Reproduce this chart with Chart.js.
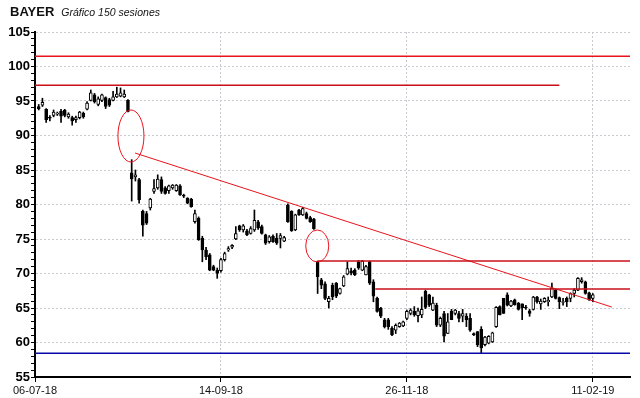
<!DOCTYPE html>
<html>
<head>
<meta charset="utf-8">
<script src="https://cdn.jsdelivr.net/npm/chart.js@4.4.1/dist/chart.umd.min.js"></script>
<style>
  html, body { margin: 0; padding: 0; background: #fff; }
  #wrap { position: relative; width: 640px; height: 398px; }
  #title { position: absolute; left: 10px; top: 3px; font-family: 'Liberation Sans', Arial, sans-serif; white-space: nowrap; color: #111; line-height: 16px; }
  #title b { font-size: 13px; }
  #title i { font-size: 10.5px; margin-left: 7px; }
</style>
</head>
<body>
<div id="wrap">
  <canvas id="chart" width="640" height="398"></canvas>
  <div id="title"><b>BAYER</b><i>Gráfico 150 sesiones</i></div>
</div>
<script>
// --- DATA (150 sesiones) ---
const opens = [
  94.2, 94.4, 93.8, 92.6, 92.9, 93.1, 93.5, 93.7, 92.7, 92.6,
  92.3, 92.6, 93.2, 93.8, 95.1, 95.9, 94.5, 95.1, 95.5, 95.2,
  95.1, 95.6, 95.7, 95.6, 95.1, 84.6, 84.0, 83.6, 79.0, 78.7,
  79.5, 81.9, 82.4, 83.6, 82.4, 82.0, 82.4, 82.0, 82.7, 81.3,
  80.9, 80.8, 77.5, 78.0, 75.1, 73.4, 72.7, 71.0, 70.5, 70.4,
  72.0, 73.4, 73.8, 75.0, 76.9, 76.3, 76.2, 75.8, 76.3, 77.5,
  76.8, 75.6, 74.6, 75.4, 75.1, 75.1, 74.7, 79.9, 79.0, 76.3,
  79.2, 78.5, 78.7, 78.1, 77.9, 71.7, 69.1, 68.5, 65.9, 68.3,
  68.6, 67.1, 68.2, 69.9, 70.4, 70.5, 71.7, 70.5, 69.8, 71.7,
  68.8, 66.4, 65.0, 63.3, 63.3, 62.1, 61.8, 62.3, 62.4, 63.5,
  64.2, 64.5, 63.9, 64.0, 67.4, 66.9, 64.7, 65.4, 62.5, 64.2,
  61.3, 64.5, 64.2, 64.2, 63.8, 63.8, 63.5, 61.3, 61.6, 61.9,
  59.7, 59.9, 60.1, 62.3, 65.2, 66.4, 66.9, 65.3, 66.2, 65.7,
  65.6, 65.1, 64.6, 64.8, 66.6, 65.6, 65.9, 65.9, 66.6, 67.6,
  66.5, 65.8, 66.4, 66.4, 67.1, 67.6, 68.8, 68.8, 67.2, 66.4
];
const highs = [
  94.5, 95.4, 93.9, 92.9, 93.7, 93.4, 93.8, 93.8, 93.3, 92.8,
  92.8, 93.5, 93.4, 94.9, 96.6, 96.1, 95.6, 96.0, 95.6, 95.4,
  96.4, 97.0, 96.9, 96.6, 95.2, 86.5, 85.0, 83.8, 79.2, 79.0,
  80.9, 83.6, 84.3, 84.0, 82.6, 82.8, 82.9, 82.9, 82.9, 81.5,
  81.0, 80.9, 79.2, 78.2, 75.4, 73.8, 72.9, 71.2, 70.8, 72.2,
  73.1, 73.9, 74.2, 76.8, 77.0, 77.1, 76.4, 76.8, 79.2, 77.7,
  77.0, 75.7, 75.5, 75.6, 75.8, 75.8, 75.4, 80.1, 79.1, 78.6,
  79.3, 79.6, 78.9, 78.3, 78.0, 71.8, 69.3, 68.8, 66.7, 68.6,
  68.7, 67.9, 69.7, 71.7, 70.8, 70.7, 71.9, 71.9, 71.2, 71.8,
  69.1, 66.6, 65.1, 63.5, 63.5, 62.3, 62.7, 62.9, 63.1, 64.7,
  64.9, 65.2, 65.0, 66.6, 67.6, 67.0, 66.6, 65.7, 63.7, 64.5,
  64.2, 64.8, 64.8, 64.5, 64.8, 64.2, 64.2, 61.4, 61.6, 62.3,
  60.9, 61.0, 61.5, 65.2, 65.3, 66.4, 67.2, 66.1, 66.3, 65.8,
  65.6, 65.4, 64.8, 66.7, 66.7, 66.3, 66.5, 66.6, 68.6, 67.7,
  66.6, 66.4, 66.6, 67.2, 67.8, 69.4, 69.4, 68.9, 67.3, 67.1
];
const lows = [
  93.7, 94.2, 91.9, 92.1, 92.7, 92.9, 91.9, 92.7, 92.5, 91.5,
  91.9, 92.4, 92.5, 93.7, 95.0, 94.7, 94.3, 94.9, 93.9, 94.2,
  95.0, 95.5, 95.6, 95.5, 93.4, 80.5, 83.4, 80.2, 75.4, 77.1,
  79.2, 81.6, 82.2, 81.6, 81.5, 81.6, 82.2, 81.9, 81.3, 81.0,
  80.1, 79.6, 77.3, 74.8, 71.7, 72.0, 70.4, 70.4, 69.3, 70.2,
  71.8, 73.2, 73.6, 74.9, 76.1, 76.0, 75.5, 75.7, 76.1, 76.4,
  75.7, 74.2, 74.4, 74.5, 74.2, 73.7, 74.6, 77.4, 76.1, 76.2,
  78.4, 78.4, 77.9, 77.4, 76.4, 67.1, 67.8, 66.2, 65.0, 66.2,
  66.5, 67.0, 68.1, 69.8, 69.8, 69.7, 70.6, 70.4, 69.8, 68.4,
  65.9, 64.4, 63.6, 62.1, 61.9, 61.0, 61.3, 62.2, 62.3, 63.3,
  64.0, 63.8, 63.0, 63.6, 64.9, 65.2, 64.6, 62.3, 62.3, 60.1,
  61.3, 63.3, 64.0, 63.0, 63.0, 62.3, 61.6, 61.0, 59.4, 58.4,
  59.5, 59.8, 60.0, 62.2, 64.0, 64.2, 65.3, 65.2, 65.4, 64.7,
  63.3, 64.8, 63.8, 64.7, 65.7, 64.8, 65.8, 65.3, 66.5, 66.3,
  64.9, 65.4, 65.2, 65.9, 66.6, 67.5, 68.6, 67.0, 66.1, 65.9
];
const closes = [
  93.9, 94.8, 92.3, 92.5, 93.4, 93.2, 92.8, 92.9, 93.1, 92.1,
  92.6, 93.4, 92.7, 94.7, 96.2, 94.9, 95.3, 95.9, 94.2, 94.4,
  95.6, 96.0, 96.2, 96.0, 93.5, 83.7, 84.3, 80.7, 77.0, 77.3,
  80.8, 82.3, 83.7, 81.9, 81.6, 82.7, 82.8, 82.8, 81.4, 81.2,
  80.2, 79.7, 78.7, 74.9, 73.4, 72.4, 70.5, 70.5, 70.0, 72.0,
  72.9, 73.6, 74.1, 75.8, 76.3, 76.9, 75.6, 76.5, 77.7, 76.6,
  75.8, 74.4, 75.3, 74.6, 74.4, 75.5, 75.2, 77.5, 76.2, 78.5,
  78.5, 79.4, 78.0, 77.5, 76.5, 69.5, 68.3, 66.4, 66.4, 66.6,
  66.7, 67.8, 69.5, 70.7, 70.1, 69.8, 70.8, 71.8, 71.0, 68.6,
  66.7, 64.5, 63.8, 62.3, 62.3, 61.1, 62.5, 62.8, 63.0, 64.5,
  64.7, 64.0, 64.6, 64.8, 65.1, 65.4, 65.7, 62.5, 63.5, 60.9,
  63.0, 63.3, 64.7, 63.5, 64.2, 63.3, 61.8, 61.1, 59.7, 59.2,
  60.8, 60.9, 61.4, 65.1, 64.0, 64.2, 65.4, 66.0, 65.5, 64.8,
  65.0, 65.0, 64.2, 66.6, 65.9, 66.0, 66.4, 66.1, 67.9, 66.4,
  65.9, 65.9, 65.9, 67.1, 67.6, 69.3, 69.1, 67.1, 66.2, 66.9
];

// x axis: session number, labels every 50 sessions
const dateTickPos = [0, 50, 100, 150];
const dateLabels = ['06-07-18', '14-09-18', '26-11-18', '11-02-19'];

// horizontal support / resistance levels
const levelValues = [101.5, 97.3, 71.8, 67.75, 58.45];
const levelFrom = [0, 0, 76, 91.5, 0];
const levelTo = [160, 141, 160, 160, 160];

// trend line
const trendX = [26.9, 155.1];
const trendY = [87.46, 65.14];

// circled gaps (centre session, centre price, half width in sessions, half height in price)
const ringX = [25.8, 75.9];
const ringY = [89.93, 73.99];
const ringRX = [3.5, 3.1];
const ringRY = [3.77, 2.32];

// --- STYLE ---
const RED = '#e8141c';
const BLUE = '#0808a8';
const levelColors = [RED, '#c81018', '#c81018', '#c81018', BLUE];
const GRID = '#c9c9cf';

// --- BUILD ---
const sessions = opens.map((_, i) => i + 1);

const wickData = sessions.map((s, i) => ({ x: s, y: [lows[i], highs[i]] }));
const bodyData = sessions.map((s, i) => ({ x: s, y: [opens[i], closes[i]] }));

const lineSets = levelValues.map((v, i) => ({
    type: 'line',
    data: [{ x: levelFrom[i], y: v }, { x: levelTo[i], y: v }],
    borderColor: levelColors[i],
    borderWidth: 1.5,
    pointRadius: 0,
    order: 0
}));
lineSets.push({
    type: 'line',
    data: trendX.map((x, i) => ({ x: x, y: trendY[i] })),
    borderColor: RED,
    borderWidth: 1,
    pointRadius: 0,
    order: 0
});

const ringPlugin = {
    id: 'rings',
    afterDatasetsDraw(chart) {
        const { ctx, scales: { x, y } } = chart;
        ctx.save();
        ctx.strokeStyle = RED;
        ctx.lineWidth = 1;
        ringX.forEach((cx, i) => {
            const px = x.getPixelForValue(cx);
            const py = y.getPixelForValue(ringY[i]);
            const rx = Math.abs(x.getPixelForValue(cx + ringRX[i]) - px);
            const ry = Math.abs(y.getPixelForValue(ringY[i] + ringRY[i]) - py);
            ctx.beginPath();
            ctx.ellipse(px, py, rx, ry, 0, 0, Math.PI * 2);
            ctx.stroke();
        });
        ctx.restore();
    }
};

Chart.defaults.font.family = "'Liberation Sans', Arial, sans-serif";

new Chart(document.getElementById('chart'), {
    type: 'bar',
    data: {
        datasets: [
            {
                data: wickData,
                backgroundColor: '#000',
                barThickness: 1,
                grouped: false,
                order: 2
            },
            {
                data: bodyData,
                backgroundColor: (c) => closes[c.dataIndex] > opens[c.dataIndex] ? '#fff' : '#000',
                borderColor: '#000',
                borderWidth: 1,
                borderSkipped: false,
                barThickness: 3,
                minBarLength: 1,
                grouped: false,
                order: 1
            },
            ...lineSets
        ]
    },
    options: {
        responsive: false,
        animation: false,
        layout: { padding: { top: 32, right: 10, left: 0, bottom: 0 } },
        plugins: {
            legend: { display: false },
            tooltip: { enabled: false }
        },
        scales: {
            x: {
                type: 'linear',
                min: 0,
                max: 160,
                offset: false,
                afterBuildTicks: (s) => { s.ticks = dateTickPos.map(v => ({ value: v })); },
                afterFit: (s) => { s.height = 21; },
                ticks: {
                    autoSkip: false,
                    maxRotation: 0,
                    padding: 2,
                    color: '#111',
                    font: { size: 11 },
                    callback: (v) => dateLabels[dateTickPos.indexOf(v)] ?? ''
                },
                grid: {
                    offset: false,
                    color: GRID,
                    tickColor: '#000',
                    tickLength: 5
                },
                border: { color: '#000', width: 2, dash: [2, 2] }
            },
            y: {
                min: 55,
                max: 105,
                afterFit: (s) => { s.width = 35; },
                ticks: {
                    stepSize: 1,
                    autoSkip: false,
                    padding: 1,
                    color: '#000',
                    font: { size: 13, weight: 'bold' },
                    callback: (v) => v % 5 === 0 ? v : ''
                },
                grid: {
                    color: (c) => c.tick && c.tick.value % 5 === 0 ? GRID : 'rgba(0,0,0,0)',
                    tickColor: '#000',
                    tickLength: 4
                },
                border: { color: '#000', width: 2, dash: [2, 2] }
            }
        }
    },
    plugins: [ringPlugin]
});
</script>
</body>
</html>
